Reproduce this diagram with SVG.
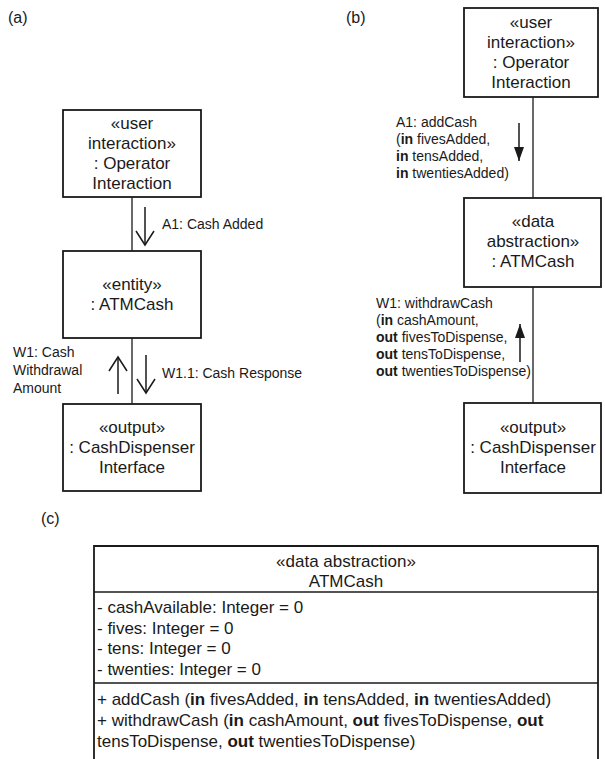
<svg xmlns="http://www.w3.org/2000/svg" width="605" height="759" viewBox="0 0 605 759">
<defs>
<style>
text{font-family:"Liberation Sans",Arial,sans-serif;fill:#1a1a1a}
.n{font-size:17px;text-anchor:middle}
.l{font-size:14px}
.c{font-size:17px}
.t{font-size:16px}
.box{fill:#fff;stroke:#1a1a1a;stroke-width:1.8}
.cn{stroke:#1a1a1a;stroke-width:1.3;fill:none}
.ar{stroke:#1a1a1a;stroke-width:1.5;fill:none}
</style>
<marker id="open" markerUnits="userSpaceOnUse" viewBox="-16 -12 18 24" markerWidth="18" markerHeight="24" refX="0" refY="0" orient="auto">
<path d="M-14,-9 L0,0 L-14,9" fill="none" stroke="#1a1a1a" stroke-width="1.5"/>
</marker>
<marker id="fill" markerUnits="userSpaceOnUse" viewBox="-15 -7 16 14" markerWidth="16" markerHeight="14" refX="0" refY="0" orient="auto">
<path d="M-14,-5 L0,0 L-14,5 Z" fill="#1a1a1a"/>
</marker>
</defs>
<rect width="605" height="759" fill="#fff"/>

<text class="t" x="8" y="23">(a)</text>
<text class="t" x="346" y="23">(b)</text>
<text class="t" x="41" y="524">(c)</text>

<g id="connectors">
<line class="cn" x1="132" y1="197" x2="132" y2="251"/>
<line class="cn" x1="132" y1="338" x2="132" y2="404"/>
<line class="cn" x1="533" y1="97" x2="533" y2="198"/>
<line class="cn" x1="533" y1="287" x2="533" y2="403"/>
<line class="ar" x1="145" y1="207" x2="145" y2="245" marker-end="url(#open)"/>
<line class="ar" x1="118" y1="394" x2="118" y2="357" marker-end="url(#open)"/>
<line class="ar" x1="146" y1="355" x2="146" y2="393" marker-end="url(#open)"/>
<line class="ar" x1="519" y1="123" x2="519" y2="161" marker-end="url(#fill)"/>
<line class="ar" x1="520" y1="362" x2="520" y2="324" marker-end="url(#fill)"/>
<text class="l" x="162" y="229">A1: Cash Added</text>
<text class="l" x="162" y="378">W1.1: Cash Response</text>
<text class="l" x="13" y="357">W1: Cash</text>
<text class="l" x="13" y="375">Withdrawal</text>
<text class="l" x="13" y="393">Amount</text>
<text class="l" x="396" y="127">A1: addCash</text>
<text class="l" x="396" y="144">(<tspan font-weight="bold">in</tspan> fivesAdded,</text>
<text class="l" x="396" y="161"><tspan font-weight="bold">in</tspan> tensAdded,</text>
<text class="l" x="396" y="178"><tspan font-weight="bold">in</tspan> twentiesAdded)</text>
<text class="l" x="376" y="308">W1: withdrawCash</text>
<text class="l" x="376" y="325">(<tspan font-weight="bold">in</tspan> cashAmount,</text>
<text class="l" x="376" y="342"><tspan font-weight="bold">out</tspan> fivesToDispense,</text>
<text class="l" x="376" y="359"><tspan font-weight="bold">out</tspan> tensToDispense,</text>
<text class="l" x="376" y="376"><tspan font-weight="bold">out</tspan> twentiesToDispense)</text>
</g>

<g id="a-operator">
<rect class="box" x="63" y="110" width="138" height="87"/>
<text class="n" x="132" y="129">«user</text>
<text class="n" x="132" y="149">interaction»</text>
<text class="n" x="132" y="169">: Operator</text>
<text class="n" x="132" y="189">Interaction</text>
</g>
<g id="a-atmcash">
<rect class="box" x="63" y="251" width="138" height="87"/>
<text class="n" x="132" y="290">«entity»</text>
<text class="n" x="132" y="310">: ATMCash</text>
</g>
<g id="a-dispenser">
<rect class="box" x="63" y="404" width="138" height="87"/>
<text class="n" x="132" y="433">«output»</text>
<text class="n" x="132" y="453">: CashDispenser</text>
<text class="n" x="132" y="473">Interface</text>
</g>

<g id="b-operator">
<rect class="box" x="464" y="8" width="134" height="89"/>
<text class="n" x="531" y="28">«user</text>
<text class="n" x="531" y="48">interaction»</text>
<text class="n" x="531" y="68">: Operator</text>
<text class="n" x="531" y="88">Interaction</text>
</g>
<g id="b-atmcash">
<rect class="box" x="464" y="198" width="137" height="89"/>
<text class="n" x="533" y="227">«data</text>
<text class="n" x="533" y="247">abstraction»</text>
<text class="n" x="533" y="267">: ATMCash</text>
</g>
<g id="b-dispenser">
<rect class="box" x="464" y="403" width="137" height="90"/>
<text class="n" x="533" y="433">«output»</text>
<text class="n" x="533" y="453">: CashDispenser</text>
<text class="n" x="533" y="473">Interface</text>
</g>

<g id="c-atmcash">
<path class="box" d="M94,762 V546 H598 V762" />
<line class="cn" x1="94" y1="592" x2="598" y2="592" stroke-width="1.6"/>
<line class="cn" x1="94" y1="683" x2="598" y2="683" stroke-width="1.6"/>
<text class="n" x="346" y="567">«data abstraction»</text>
<text class="n" x="346" y="587">ATMCash</text>
<text class="c" x="97" y="613">- cashAvailable: Integer = 0</text>
<text class="c" x="97" y="634">- fives: Integer = 0</text>
<text class="c" x="97" y="654">- tens: Integer = 0</text>
<text class="c" x="97" y="675">- twenties: Integer = 0</text>
<text class="c" x="97" y="705">+ addCash (<tspan font-weight="bold">in</tspan> fivesAdded, <tspan font-weight="bold">in</tspan> tensAdded, <tspan font-weight="bold">in</tspan> twentiesAdded)</text>
<text class="c" x="97" y="726">+ withdrawCash (<tspan font-weight="bold">in</tspan> cashAmount, <tspan font-weight="bold">out</tspan> fivesToDispense, <tspan font-weight="bold">out</tspan></text>
<text class="c" x="97" y="747">tensToDispense, <tspan font-weight="bold">out</tspan> twentiesToDispense)</text>
</g>
</svg>
